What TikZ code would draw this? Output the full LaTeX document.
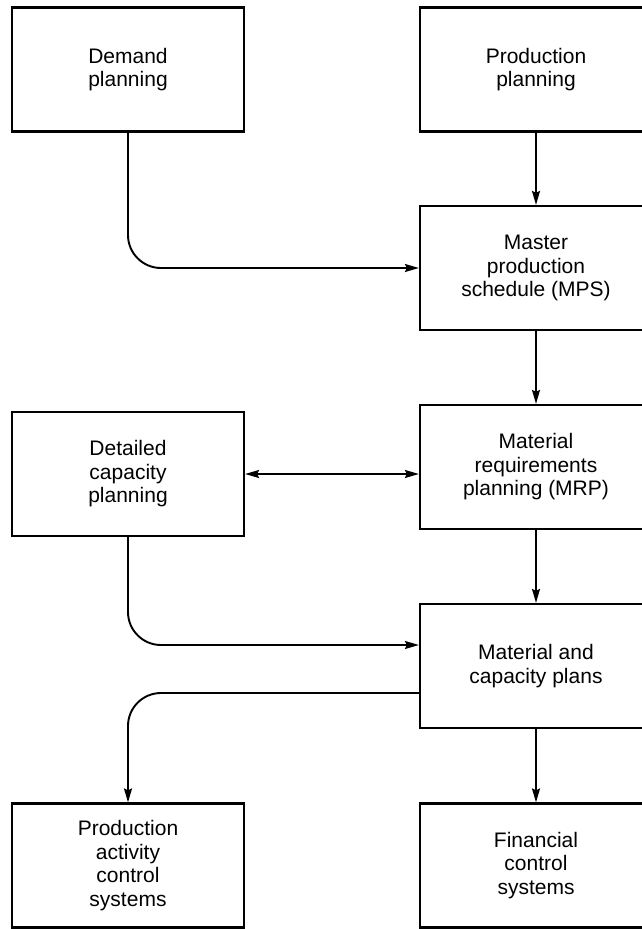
\documentclass[tikz,border=0pt]{standalone}
\usepackage{fontspec}
\setmainfont{Liberation Sans}
\usetikzlibrary{positioning, calc, arrows.meta}

\tikzset{
    planbox/.style={draw, line width=2.2pt, minimum width=232, minimum height=124,
        align=center, inner sep=0pt, font=\fontsize{21}{23.5}\selectfont},
    flow/.style={->, >={Stealth[length=14pt, width=8pt, inset=2pt]}, line width=1.9pt}
}

\begin{document}
\begin{tikzpicture}[x=1pt, y=-1pt]
    % Frame
    \useasboundingbox (0,0) rectangle (642,929);
    \clip (0,0) rectangle (642,929);

    % Boxes
    \node[planbox] (demand) at (128,69.5) {Demand\\planning};
    \node[planbox] (prodplan) at (536,69.5) {Production\\planning};
    \node[planbox] (mps) at (536,268) {Master\\production\\schedule (MPS)};
    \node[planbox] (mrp) at (536,467) {Material\\requirements\\planning (MRP)};
    \node[planbox] (detailed) at (128,474) {Detailed\\capacity\\planning};
    \node[planbox] (matcap) at (536,666) {Material and\\capacity plans};
    \node[planbox] (pac) at (128,865.5) {Production\\activity\\control\\systems};
    \node[planbox] (fin) at (536,865.5) {Financial\\control\\systems};

    % Connectors
    \draw[flow] (prodplan) -- (mps);
    \draw[flow, rounded corners=33] (demand.south) |- (mps.west);
    \draw[flow] (mps) -- (mrp);
    \draw[flow, <->] (detailed.east) -- (detailed.east -| mrp.west);
    \draw[flow] (mrp) -- (matcap);
    \draw[flow, rounded corners=33] (detailed.south) |- ([yshift=21pt]matcap.west);
    \draw[flow, rounded corners=33] ([yshift=-27pt]matcap.west) -| (pac.north);
    \draw[flow] (matcap) -- (fin);
\end{tikzpicture}
\end{document}
